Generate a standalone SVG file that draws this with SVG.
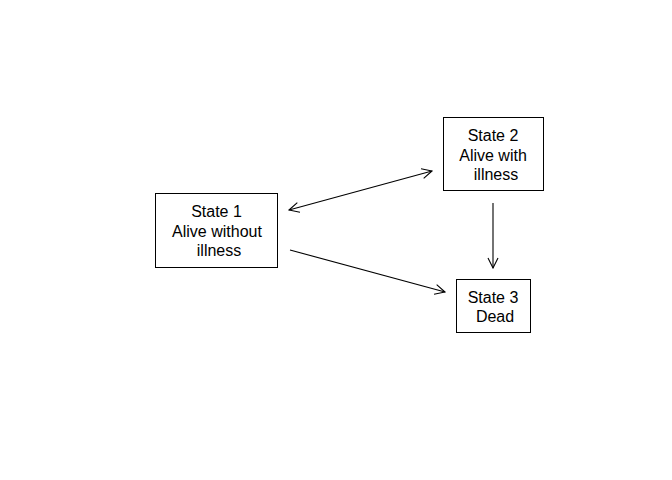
<svg xmlns="http://www.w3.org/2000/svg" width="672" height="480" viewBox="0 0 672 480">
<defs>
<marker id="ah" viewBox="0 0 12 12" refX="11" refY="6" markerWidth="12" markerHeight="12" markerUnits="userSpaceOnUse" orient="auto-start-reverse">
<path d="M1,1 L11,6 L1,11" fill="none" stroke="#000" stroke-width="1.1"/>
</marker>
<style>
.box{fill:#fff;stroke:#000;stroke-width:1}
.t{font-family:"Liberation Sans",Arial,sans-serif;font-size:16px;fill:#000;text-anchor:middle}
.c{stroke:#000;stroke-width:1.1;fill:none}
</style>
</defs>
<rect width="672" height="480" fill="#fff"/>
<g id="state1">
<rect class="box" x="155.5" y="193.5" width="122" height="74"/>
<text class="t" x="216.5" y="217">State 1</text>
<text class="t" x="217" y="237">Alive without</text>
<text class="t" x="219" y="256">illness</text>
</g>
<g id="state2">
<rect class="box" x="443.5" y="117.5" width="100" height="73"/>
<text class="t" x="493" y="141">State 2</text>
<text class="t" x="493" y="161">Alive with</text>
<text class="t" x="496" y="180">illness</text>
</g>
<g id="state3">
<rect class="box" x="456.5" y="279.5" width="74" height="53"/>
<text class="t" x="493" y="303">State 3</text>
<text class="t" x="495" y="322">Dead</text>
</g>
<g id="connectors">
<line class="c" x1="289" y1="210" x2="432" y2="171" marker-start="url(#ah)" marker-end="url(#ah)"/>
<line class="c" x1="290" y1="250" x2="445" y2="292" marker-end="url(#ah)"/>
<line class="c" x1="493" y1="203" x2="493" y2="268" marker-end="url(#ah)"/>
</g>
</svg>
